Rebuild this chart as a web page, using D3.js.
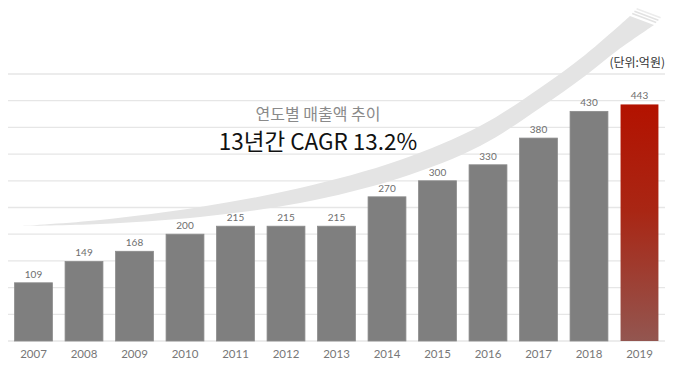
<!DOCTYPE html>
<html>
<head>
<meta charset="utf-8">
<script src="https://cdn.jsdelivr.net/npm/d3@7"></script>
<style>
  body { margin: 0; background: #fff; }
  svg { display: block; }
</style>
</head>
<body>
<div id="chart"></div>
<script>
const years = ['2007', '2008', '2009', '2010', '2011', '2012', '2013', '2014', '2015', '2016', '2017', '2018', '2019'];
const sales = [109, 149, 168, 200, 215, 215, 215, 270, 300, 330, 380, 430, 443];
const gridTicks = [0, 50, 100, 150, 200, 250, 300, 350, 400, 450, 500];
const title = '연도별 매출액 추이';
const subtitle = '13년간 CAGR 13.2%';
const unitLabel = '(단위:억원)';

const width = 680, height = 378;
const plotLeft = 8, plotRight = 665, plotTop = 74, plotBottom = 341;

const svg = d3.select('#chart')
  .append('svg')
  .attr('width', width)
  .attr('height', height);

const x = d3.scaleBand()
  .domain(years)
  .range([plotLeft, plotRight])
  .paddingInner(0.25)
  .paddingOuter(0.13);

const y = d3.scaleLinear()
  .domain([0, 500])
  .range([plotBottom, plotTop]);

// 그라디언트 (마지막 막대)
const defs = svg.append('defs');
const grad = defs.append('linearGradient')
  .attr('id', 'redGrad')
  .attr('x1', 0).attr('y1', 0).attr('x2', 0).attr('y2', 1);
grad.append('stop').attr('offset', '0%').attr('stop-color', '#b31200');
grad.append('stop').attr('offset', '45%').attr('stop-color', '#a92614');
grad.append('stop').attr('offset', '100%').attr('stop-color', '#935650');

// 가로 그리드
svg.append('g')
  .selectAll('line')
  .data(gridTicks)
  .enter()
  .append('line')
  .attr('x1', plotLeft)
  .attr('x2', plotRight)
  .attr('y1', d => y(d))
  .attr('y2', d => y(d))
  .attr('stroke', '#e6e6e6')
  .attr('stroke-width', 1.3);

// 배경 곡선 (swoosh)
const upper = [[22, 226], [100, 220], [200, 207], [300, 188], [400, 160], [480, 126], [540, 88], [585, 55], [630, 16]];
const lower = [[22, 226], [100, 224], [200, 217], [300, 203], [400, 178], [480, 146], [540, 108], [585, 76], [618, 50], [654, 25]];
const curve = d3.line().curve(d3.curveCatmullRom.alpha(0.5));
const swoosh = svg.append('g');
swoosh.append('path')
  .attr('d', curve(upper) + 'L' + curve(lower.slice().reverse()).slice(1) + 'Z')
  .attr('fill', '#e4e4e4');
// 끝부분 겹친 선
[1, 2, 3].forEach(k => {
  const dx = k * 2.2, dy = -k * 2.4;
  swoosh.append('path')
    .attr('d', `M${630 + dx},${16 + dy} L${654 + dx},${25 + dy}`)
    .attr('stroke', k === 3 ? '#ececec' : '#e2e2e2')
    .attr('stroke-width', 1.6)
    .attr('fill', 'none');
});

// 막대
svg.append('g')
  .selectAll('rect')
  .data(sales)
  .enter()
  .append('rect')
  .attr('x', (d, i) => x(years[i]))
  .attr('y', d => y(d))
  .attr('width', x.bandwidth())
  .attr('height', d => plotBottom - y(d))
  .attr('fill', (d, i) => i === sales.length - 1 ? 'url(#redGrad)' : '#7f7f7f')
  .attr('stroke', (d, i) => i === sales.length - 1 ? 'none' : '#8c8c8c')
  .attr('stroke-width', 0.8);

// 값 레이블
svg.append('g')
  .selectAll('text')
  .data(sales)
  .enter()
  .append('text')
  .attr('x', (d, i) => x(years[i]) + x.bandwidth() / 2)
  .attr('y', d => y(d) - 5)
  .attr('text-anchor', 'middle')
  .attr('font-family', 'Lato, "DejaVu Sans", sans-serif')
  .attr('font-size', 10)
  .attr('fill', '#6e6e6e')
  .text(d => d);

// x축 레이블
svg.append('g')
  .selectAll('text')
  .data(years)
  .enter()
  .append('text')
  .attr('x', d => x(d) + x.bandwidth() / 2)
  .attr('y', 358)
  .attr('text-anchor', 'middle')
  .attr('font-family', 'Lato, "DejaVu Sans", sans-serif')
  .attr('font-size', 11.5)
  .attr('fill', '#777')
  .text(d => d);

// 제목
svg.append('text')
  .attr('x', 318)
  .attr('y', 120)
  .attr('text-anchor', 'middle')
  .attr('font-family', '"Noto Sans CJK KR", sans-serif')
  .attr('font-size', 16)
  .attr('fill', '#8a8a8a')
  .text(title);

svg.append('text')
  .attr('x', 318)
  .attr('y', 150)
  .attr('text-anchor', 'middle')
  .attr('font-family', '"Noto Sans CJK KR", sans-serif')
  .attr('font-size', 22.5)
  .attr('fill', '#111')
  .text(subtitle);

svg.append('text')
  .attr('x', 665)
  .attr('y', 67)
  .attr('text-anchor', 'end')
  .attr('font-family', '"Noto Sans CJK KR", sans-serif')
  .attr('font-size', 12)
  .attr('fill', '#333')
  .text(unitLabel);
</script>
</body>
</html>
